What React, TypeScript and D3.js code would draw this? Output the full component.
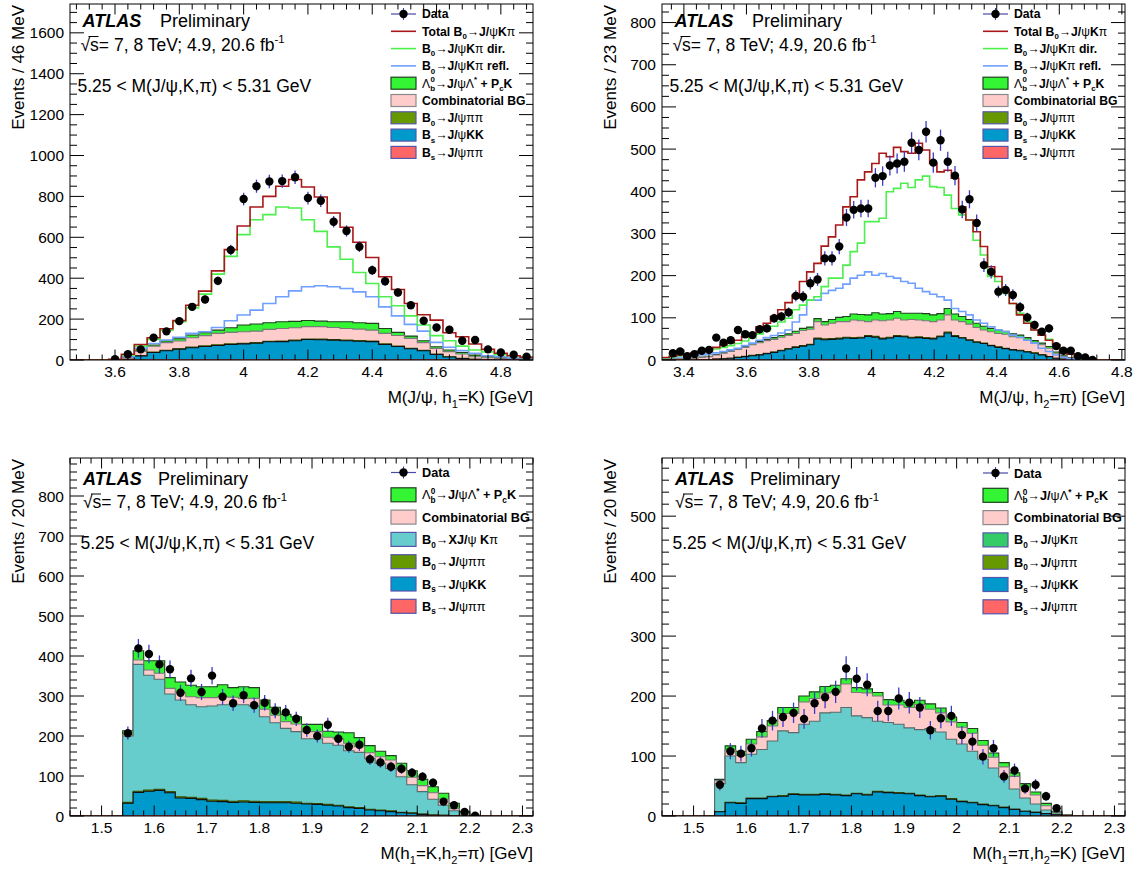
import React from 'react';
import * as d3 from 'd3';

// ---------- panel 1: M(J/psi, h1=K), 36 bins 3.46 - 4.90 GeV ----------
const p1Range = [3.46, 4.9];
const p1Bins = 36;
const p1Data = [null, null, null, 4, 28, 52, 109, 140, 190, 260, 296, 387, 538, 787, 850, 873, 875, 894, 792, 779, 676, 631, 554, 439, 385, 330, 268, 192, 159, 148, 94, 98, 52, 37, 26, 16];
const p1Total = [0, 0, 0, 3, 28, 76, 109, 153, 193, 268, 337, 436, 540, 655, 748, 800, 850, 883, 846, 797, 719, 649, 576, 501, 407, 345, 276, 221, 195, 133, 114, 78, 52, 33, 21, 13];
const p1Dir = [0, 0, 0, 2, 24, 68, 101, 146, 187, 255, 322, 420, 507, 613, 686, 711, 748, 743, 686, 629, 553, 493, 428, 374, 309, 265, 216, 171, 119, 94, 68, 49, 39, 26, 21, 13];
const p1Refl = [0, 0, 0, 1, 16, 57, 81, 98, 111, 130, 138, 159, 192, 220, 244, 276, 309, 338, 358, 363, 358, 350, 333, 309, 260, 216, 174, 141, 86, 62, 46, 33, 21, 16, 10, 5];
const p1KK = [0, 0, 0, 0, 3, 20, 36, 44, 52, 59, 65, 70, 75, 78, 81, 88, 89, 93, 99, 98, 96, 93, 91, 89, 75, 65, 54, 44, 26, 15, 7, 3, 2, 1, 1, 1];
const p1B0pp = [0, 0, 0, 0, 0, 1, 2, 2, 2, 3, 3, 3, 3, 3, 3, 3, 3, 3, 3, 3, 3, 3, 3, 3, 3, 2, 2, 2, 2, 1, 1, 1, 0, 0, 0, 0];
const p1Bspp = [0, 0, 0, 0, 0, 0, 1, 1, 1, 1, 1, 1, 1, 1, 1, 1, 1, 1, 1, 1, 1, 1, 1, 1, 1, 1, 1, 1, 1, 0, 0, 0, 0, 0, 0, 0];
const p1Comb = [0, 0, 0, 0, 10, 21, 28, 38, 38, 46, 50, 56, 56, 56, 56, 58, 61, 61, 60, 61, 59, 57, 56, 53, 51, 52, 49, 38, 28, 25, 21, 12, 9, 7, 4, 2];
const p1Lb = [0, 0, 0, 0, 2, 7, 6, 8, 11, 13, 14, 16, 23, 33, 35, 32, 33, 31, 30, 27, 28, 33, 31, 33, 24, 15, 11, 9, 8, 8, 8, 8, 5, 3, 3, 2];

// ---------- panel 2: M(J/psi, h2=pi), 64 bins 3.33 - 4.81 GeV ----------
const p2Range = [3.33, 4.81];
const p2Bins = 64;
const p2Data = [null, 16, 20, 9, 14, 22, 24, 53, 41, 47, 71, 61, 59, 73, 75, 99, 103, 113, 152, 150, 182, 191, 241, 241, 269, 338, 356, 359, 359, 432, 436, 461, 466, 470, 515, 498, 541, 468, 521, 470, 437, 357, 381, 325, 225, 209, 162, 166, 154, 125, 101, 83, 67, 75, 33, 22, 22, 9, 6, 0, null, null, null, null];
const p2Total = [6, 9, 12, 14, 17, 22, 25, 30, 36, 41, 47, 55, 63, 79, 87, 103, 119, 136, 154, 186, 209, 229, 270, 292, 320, 363, 387, 427, 446, 466, 490, 482, 504, 494, 490, 514, 498, 466, 446, 450, 431, 363, 332, 304, 269, 221, 198, 166, 134, 107, 87, 71, 59, 47, 36, 22, 14, 8, 4, 2, 0, 0, 0, 0];
const p2Dir = [5, 8, 10, 12, 15, 19, 22, 26, 30, 34, 39, 45, 52, 62, 70, 80, 90, 99, 119, 130, 142, 150, 174, 194, 194, 225, 257, 277, 328, 328, 336, 399, 407, 419, 409, 427, 436, 411, 409, 391, 359, 344, 332, 284, 249, 198, 186, 158, 134, 111, 91, 71, 59, 49, 36, 22, 14, 8, 4, 2, 0, 0, 0, 0];
const p2Refl = [4, 6, 7, 8, 10, 12, 14, 17, 20, 24, 28, 34, 40, 47, 53, 58, 64, 71, 90, 107, 142, 142, 158, 165, 170, 180, 194, 201, 209, 201, 205, 198, 194, 186, 182, 170, 162, 156, 150, 142, 122, 115, 107, 95, 87, 79, 71, 67, 59, 54, 47, 40, 28, 20, 12, 6, 3, 2, 1, 0, 0, 0, 0, 0];
const p2KK = [0, 0, 0, 0, 0, 1, 1, 2, 3, 4, 6, 8, 10, 12, 15, 18, 22, 26, 30, 33, 36, 49, 47, 48, 49, 51, 50, 51, 55, 53, 49, 51, 55, 54, 51, 52, 50, 49, 54, 63, 55, 51, 46, 41, 38, 33, 30, 27, 24, 22, 19, 16, 12, 8, 4, 2, 1, 0, 0, 0, 0, 0, 0, 0];
const p2B0pp = [0, 0, 0, 0, 0, 0, 0, 0, 0, 0, 1, 1, 1, 1, 1, 1, 1, 1, 1, 1, 1, 2, 2, 2, 2, 2, 2, 2, 2, 2, 2, 2, 2, 2, 2, 2, 2, 2, 2, 2, 2, 1, 1, 1, 1, 1, 1, 1, 1, 1, 1, 1, 1, 0, 0, 0, 0, 0, 0, 0, 0, 0, 0, 0];
const p2Bspp = [0, 0, 0, 0, 0, 0, 0, 0, 0, 0, 0, 0, 0, 0, 0, 0, 0, 0, 0, 0, 0, 1, 1, 1, 1, 1, 1, 1, 1, 1, 1, 1, 1, 1, 1, 1, 1, 1, 1, 1, 1, 1, 1, 1, 1, 1, 0, 0, 0, 0, 0, 0, 0, 0, 0, 0, 0, 0, 0, 0, 0, 0, 0, 0];
const p2Comb = [1, 2, 2, 3, 4, 5, 7, 10, 13, 16, 18, 21, 25, 28, 30, 30, 31, 31, 32, 36, 36, 39, 33, 36, 39, 37, 42, 39, 33, 39, 41, 41, 41, 38, 42, 40, 40, 39, 38, 41, 37, 38, 37, 34, 31, 32, 32, 33, 30, 30, 27, 24, 23, 20, 12, 6, 4, 3, 2, 1, 0, 0, 0, 0];
const p2Lb = [0, 0, 0, 0, 0, 1, 1, 1, 1, 2, 2, 2, 3, 3, 3, 4, 4, 4, 5, 5, 5, 7, 8, 9, 10, 12, 14, 15, 16, 17, 16, 15, 16, 16, 15, 16, 17, 16, 15, 15, 14, 12, 11, 10, 9, 8, 8, 7, 7, 6, 6, 5, 4, 4, 3, 2, 1, 1, 0, 0, 0, 0, 0, 0];

// ---------- panel 3: M(h1=K, h2=pi), 44 bins 1.44 - 2.32 GeV ----------
const p3Range = [1.44, 2.32];
const p3Bins = 44;
const p3Data = [null, null, null, null, null, 207, 419, 405, 379, 367, 308, 344, 310, 351, 298, 282, 302, 277, 283, 263, 259, 243, 215, 200, 228, 193, 173, 178, 142, 134, 123, 118, 108, 98, 83, 36, 27, 10, 1, null, null, null, null, null];
const p3KK = [0, 0, 0, 0, 0, 32, 58, 61, 63, 57, 44, 43, 40, 36, 35, 33, 34, 33, 32, 32, 32, 32, 30, 29, 27, 25, 21, 19, 15, 13, 11, 8, 7, 4, 2, 2, 1, 0, 0, 0, 0, 0, 0, 0];
const p3B0pp = [0, 0, 0, 0, 0, 2, 3, 3, 3, 3, 3, 3, 3, 3, 3, 3, 3, 3, 3, 3, 3, 3, 2, 2, 2, 2, 2, 2, 2, 2, 2, 1, 1, 1, 1, 0, 0, 0, 0, 0, 0, 0, 0, 0];
const p3Bspp = [0, 0, 0, 0, 0, 0, 1, 1, 1, 1, 1, 1, 1, 1, 1, 1, 1, 1, 1, 1, 1, 0, 0, 0, 0, 0, 0, 0, 0, 0, 0, 0, 0, 0, 0, 0, 0, 0, 0, 0, 0, 0, 0, 0];
const p3XKpi = [0, 0, 0, 0, 0, 166, 317, 287, 275, 244, 242, 231, 229, 235, 239, 241, 240, 238, 212, 197, 183, 176, 161, 162, 153, 150, 140, 138, 127, 117, 106, 89, 70, 56, 39, 25, 12, 2, 1, 0, 0, 0, 0, 0];
const p3Comb = [0, 0, 0, 0, 0, 3, 11, 13, 15, 14, 18, 20, 23, 21, 20, 19, 16, 19, 19, 19, 17, 19, 18, 18, 15, 16, 19, 14, 14, 16, 21, 17, 19, 15, 16, 15, 5, 3, 0, 0, 0, 0, 0, 0];
const p3Lb = [0, 0, 0, 0, 0, 10, 23, 23, 31, 27, 27, 29, 27, 27, 30, 24, 29, 27, 23, 20, 18, 18, 18, 18, 15, 17, 26, 23, 18, 14, 11, 17, 16, 16, 15, 15, 14, 6, 1, 0, 0, 0, 0, 0];

// ---------- panel 4: M(h1=pi, h2=K), 44 bins 1.44 - 2.32 GeV ----------
const p4Range = [1.44, 2.32];
const p4Bins = 44;
const p4Data = [null, null, null, null, null, 52, 108, 104, 113, 146, 159, 165, 172, 162, 188, 198, 207, 246, 229, 219, 175, 175, 196, 189, 181, 143, 163, 167, 135, 124, 99, 113, 66, 76, 46, 52, 33, 13, null, null, null, null, null, null];
const p4KK = [0, 0, 0, 0, 0, 7, 22, 21, 29, 29, 32, 33, 36, 35, 35, 36, 35, 34, 37, 35, 40, 39, 38, 37, 34, 32, 33, 28, 24, 22, 19, 17, 14, 11, 8, 6, 4, 2, 1, 0, 0, 0, 0, 0];
const p4B0pp = [0, 0, 0, 0, 0, 0, 1, 1, 1, 1, 1, 1, 1, 1, 1, 1, 1, 1, 1, 1, 1, 1, 1, 1, 1, 1, 1, 1, 1, 1, 1, 1, 1, 0, 0, 0, 0, 0, 0, 0, 0, 0, 0, 0];
const p4Bspp = [0, 0, 0, 0, 0, 0, 0, 0, 0, 0, 0, 0, 0, 0, 0, 0, 0, 0, 0, 0, 0, 0, 0, 0, 0, 0, 0, 0, 0, 0, 0, 0, 0, 0, 0, 0, 0, 0, 0, 0, 0, 0, 0, 0];
const p4Kpi = [0, 0, 0, 0, 0, 47, 77, 67, 73, 81, 92, 108, 102, 117, 122, 135, 137, 146, 129, 128, 117, 116, 114, 109, 109, 113, 106, 99, 95, 85, 75, 62, 50, 34, 22, 14, 6, 3, 0, 0, 0, 0, 0, 0];
const p4Comb = [0, 0, 0, 0, 0, 5, 10, 12, 17, 21, 25, 29, 32, 37, 38, 33, 34, 39, 39, 41, 42, 29, 32, 34, 42, 32, 32, 29, 28, 30, 23, 18, 17, 21, 18, 15, 7, 1, 0, 0, 0, 0, 0, 0];
const p4Lb = [0, 0, 0, 0, 0, 2, 7, 7, 8, 9, 9, 10, 10, 10, 11, 11, 11, 9, 8, 7, 6, 9, 8, 8, 7, 9, 8, 8, 8, 8, 8, 7, 7, 6, 6, 5, 4, 2, 0, 0, 0, 0, 0, 0];

// ---------- styles ----------
const FONT = "'Liberation Sans', Arial, Helvetica, sans-serif";
const C = {
  total: '#a81818', dir: '#4cf04c', refl: '#6f9fff',
  lb: '#33f533', comb: '#ffcccc', teal: '#66cccc', b0pp: '#669900', kk: '#0099cc', bspp: '#ff6666',
  err: '#3a3ac8',
};

interface Layer { key: string; values: number[]; fill: string; stroke: string; }
interface Curve { values: number[]; color: string; }
interface Entry { kind: 'data' | 'line' | 'box'; label: string; color?: string; stroke?: string; }
interface PanelCfg {
  id: string;
  x0: number; x1: number; y0: number; y1: number;
  range: number[]; bins: number; yMax: number;
  xMajor: number; xMinor: number; yMajor: number; yMinor: number;
  layers: Layer[]; curves: Curve[]; data: (number | null)[]; errScale: number;
  xTitle: string; yTitle: string;
  legend: Entry[]; legY: number; legStep: number; swH: number; legFont: number;
  top: boolean;
}

// "_{..}" subscript, "^{..}" superscript; greek letters and arrows are drawn non-bold in bold labels
function RichText(props: { text: string; x: number; y: number; size: number; bold?: boolean; anchor?: string; transform?: string }) {
  const { text, x, y, size, bold, anchor, transform } = props;
  const segs: { t: string; mode: string }[] = [];
  let buf = '';
  for (let i = 0; i < text.length; ) {
    if ((text[i] === '_' || text[i] === '^') && text[i + 1] === '{') {
      if (buf) { segs.push({ t: buf, mode: 'n' }); buf = ''; }
      const end = text.indexOf('}', i);
      segs.push({ t: text.slice(i + 2, end), mode: text[i] === '_' ? 'sub' : 'sup' });
      i = end + 1;
    } else { buf += text[i]; i++; }
  }
  if (buf) segs.push({ t: buf, mode: 'n' });

  const spans: React.ReactNode[] = [];
  let cur = 0;
  segs.forEach((s, si) => {
    const off = s.mode === 'sub' ? 0.28 * size : s.mode === 'sup' ? -0.42 * size : 0;
    const fs = s.mode === 'n' ? size : 0.65 * size;
    let dx = 0;
    if (s.mode === 'sup' && si > 0 && segs[si - 1].mode === 'sub') dx = -segs[si - 1].t.length * 0.58 * fs;
    const parts = bold ? s.t.split(/([ψπΛ→]+)/).filter((p) => p !== '') : [s.t];
    parts.forEach((p, pi) => {
      const greek = /[ψπΛ→]/.test(p);
      spans.push(
        <tspan key={si + '-' + pi} dy={pi === 0 ? off - cur : 0} dx={pi === 0 && dx ? dx : undefined}
          fontSize={fs} fontWeight={bold && !greek ? 'bold' : 'normal'}>{p}</tspan>
      );
    });
    cur = off;
  });
  return <text x={x} y={y} textAnchor={anchor || 'start'} transform={transform} fontSize={size}>{spans}</text>;
}

function ticksFrom(lo: number, hi: number, step: number) {
  return d3.range(Math.ceil(lo / step - 1e-9), Math.floor(hi / step + 1e-9) + 1).map((k) => +(k * step).toFixed(6));
}

function Panel({ cfg }: { cfg: PanelCfg }) {
  const { x0, x1, y0, y1, range, bins } = cfg;
  const xs = d3.scaleLinear().domain(range).range([x0, x1]);
  const ys = d3.scaleLinear().domain([0, cfg.yMax]).range([y1, y0]);
  const edges = d3.range(bins + 1).map((i) => range[0] + (i * (range[1] - range[0])) / bins);
  const centers = d3.range(bins).map((i) => (edges[i] + edges[i + 1]) / 2);

  const rows = d3.range(bins).map((i) => {
    const r: Record<string, number> = {};
    cfg.layers.forEach((l) => { r[l.key] = l.values[i]; });
    return r;
  });
  const series = d3.stack<Record<string, number>>().keys(cfg.layers.map((l) => l.key))(rows);

  const area = d3.area<number[]>().x((d) => xs(d[0])).y0(ys(0)).y1((d) => ys(d[1])).curve(d3.curveStepAfter);
  const line = d3.line<number[]>().x((d) => xs(d[0])).y((d) => ys(d[1])).curve(d3.curveStepAfter);
  const stepPts = (vals: number[]) => {
    const pts = vals.map((v, i) => [edges[i], v]);
    pts.push([edges[bins], vals[bins - 1]]);
    return pts;
  };

  const xMaj = ticksFrom(range[0], range[1], cfg.xMajor);
  const xMin = ticksFrom(range[0], range[1], cfg.xMinor).filter((t) => !xMaj.some((m) => Math.abs(m - t) < 1e-6));
  const yMaj = ticksFrom(0, cfg.yMax, cfg.yMajor);
  const yMin = ticksFrom(0, cfg.yMax, cfg.yMinor).filter((t) => !yMaj.some((m) => Math.abs(m - t) < 1e-6));
  const clipId = 'clip-' + cfg.id;

  const legX = x1 - 142;
  const swW = 25;

  const tb = cfg.top
    ? { atlas: [x0 + 12.5, y0 + 22.5], prelim: x0 + 90, sqrt: [x0 + 10.5, y0 + 46.5], cut: [x0 + 7.5, y0 + 88] }
    : { atlas: [x0 + 13, y0 + 27], prelim: x0 + 88, sqrt: [x0 + 13, y0 + 50], cut: [x0 + 10.5, y0 + 91] };

  return (
    <g>
      <defs>
        <clipPath id={clipId}>
          <rect x={x0} y={y0} width={x1 - x0} height={y1 - y0} />
        </clipPath>
      </defs>
      <g clipPath={`url(#${clipId})`}>
        {series.slice().reverse().map((s) => {
          const l = cfg.layers.find((q) => q.key === s.key)!;
          const pts = stepPts(s.map((d) => d[1]));
          return <path key={s.key} d={area(pts) || ''} fill={l.fill} stroke={l.stroke} strokeWidth={1.1} />;
        })}
        {cfg.curves.map((c, i) => (
          <path key={i} d={line(stepPts(c.values)) || ''} fill="none" stroke={c.color} strokeWidth={1.6} />
        ))}
        {cfg.data.map((v, i) => {
          if (v === null) return null;
          const e = Math.sqrt(v) * cfg.errScale;
          return (
            <g key={i}>
              <line x1={xs(centers[i])} x2={xs(centers[i])} y1={ys(Math.max(0, v - e))} y2={ys(v + e)} stroke={C.err} strokeWidth={1.3} />
              <circle cx={xs(centers[i])} cy={ys(v)} r={4.2} fill="#000" />
            </g>
          );
        })}
      </g>

      {/* ticks */}
      <g stroke="#000" strokeWidth={1}>
        {xMaj.map((t) => (
          <g key={'xM' + t}>
            <line x1={xs(t)} x2={xs(t)} y1={y1} y2={y1 - 10.5} />
            <line x1={xs(t)} x2={xs(t)} y1={y0} y2={y0 + 10.5} />
          </g>
        ))}
        {xMin.map((t) => (
          <g key={'xm' + t}>
            <line x1={xs(t)} x2={xs(t)} y1={y1} y2={y1 - 5.5} />
            <line x1={xs(t)} x2={xs(t)} y1={y0} y2={y0 + 5.5} />
          </g>
        ))}
        {yMaj.map((t) => (
          <g key={'yM' + t}>
            <line x1={x0} x2={x0 + 14} y1={ys(t)} y2={ys(t)} />
            <line x1={x1} x2={x1 - 14} y1={ys(t)} y2={ys(t)} />
          </g>
        ))}
        {yMin.map((t) => (
          <g key={'ym' + t}>
            <line x1={x0} x2={x0 + 7} y1={ys(t)} y2={ys(t)} />
            <line x1={x1} x2={x1 - 7} y1={ys(t)} y2={ys(t)} />
          </g>
        ))}
      </g>
      <rect x={x0} y={y0} width={x1 - x0} height={y1 - y0} fill="none" stroke="#000" strokeWidth={1} />

      {/* tick labels */}
      <g fontSize={15.5} fill="#000">
        {xMaj.map((t) => (
          <text key={'xl' + t} x={xs(t)} y={y1 + 17} textAnchor="middle">{String(+t.toFixed(3))}</text>
        ))}
        {yMaj.map((t) => (
          <text key={'yl' + t} x={x0 - 6} y={ys(t) + 5.5} textAnchor="end">{d3.format('d')(t)}</text>
        ))}
      </g>

      {/* axis titles */}
      <RichText text={cfg.xTitle} x={x1} y={y1 + 43} size={17} anchor="end" />
      <RichText text={cfg.yTitle} x={0} y={0} size={17} anchor="end" transform={`translate(${x0 - 46},${y0 + 1}) rotate(-90)`} />

      {/* ATLAS labels */}
      <text x={tb.atlas[0]} y={tb.atlas[1]} fontSize={18} fontWeight="bold" fontStyle="italic">ATLAS</text>
      <text x={tb.prelim} y={tb.atlas[1]} fontSize={18}>Preliminary</text>
      <RichText text={'√s= 7, 8 TeV; 4.9, 20.6 fb^{-1}'} x={tb.sqrt[0]} y={tb.sqrt[1]} size={17.5} />
      <line x1={tb.sqrt[0] + 8} x2={tb.sqrt[0] + 18} y1={tb.sqrt[1] - 14} y2={tb.sqrt[1] - 14} stroke="#000" strokeWidth={1} />
      <text x={tb.cut[0]} y={tb.cut[1]} fontSize={17.5}>5.25 &lt; M(J/ψ,K,π) &lt; 5.31 GeV</text>

      {/* legend */}
      {cfg.legend.map((e, i) => {
        const cy = cfg.legY + i * cfg.legStep;
        return (
          <g key={'lg' + i}>
            {e.kind === 'box' && (
              <rect x={legX} y={cy - cfg.swH / 2} width={swW} height={cfg.swH} fill={e.color} stroke={e.stroke} strokeWidth={1.2} />
            )}
            {e.kind === 'line' && <line x1={legX} x2={legX + swW} y1={cy} y2={cy} stroke={e.color} strokeWidth={1.6} />}
            {e.kind === 'data' && (
              <g>
                <line x1={legX} x2={legX + swW} y1={cy} y2={cy} stroke="#4a4aa8" strokeWidth={1.2} />
                <line x1={legX + swW / 2} x2={legX + swW / 2} y1={cy - 6} y2={cy + 6} stroke={C.err} strokeWidth={1} />
                <circle cx={legX + swW / 2} cy={cy} r={4.2} fill="#000" />
              </g>
            )}
            <RichText text={e.label} x={legX + swW + 6} y={cy + cfg.legFont * 0.36} size={cfg.legFont} bold />
          </g>
        );
      })}
    </g>
  );
}

const boxStroke = { lb: '#1f3f1f', comb: '#8a8a8a', other: '#5555aa' };

const layersTop = (kk: number[], b0pp: number[], bspp: number[], comb: number[], lb: number[]): Layer[] => [
  { key: 'bspp', values: bspp, fill: C.bspp, stroke: '#aa3333' },
  { key: 'kk', values: kk, fill: C.kk, stroke: '#111' },
  { key: 'b0pp', values: b0pp, fill: C.b0pp, stroke: '#3d5200' },
  { key: 'comb', values: comb, fill: C.comb, stroke: '#7a7a7a' },
  { key: 'lb', values: lb, fill: C.lb, stroke: '#1f3f1f' },
];
const layersBottom = (kk: number[], b0pp: number[], bspp: number[], kpi: number[], comb: number[], lb: number[]): Layer[] => [
  { key: 'bspp', values: bspp, fill: C.bspp, stroke: '#aa3333' },
  { key: 'kk', values: kk, fill: C.kk, stroke: '#111' },
  { key: 'b0pp', values: b0pp, fill: C.b0pp, stroke: '#3d5200' },
  { key: 'kpi', values: kpi, fill: C.teal, stroke: '#5a6a6a' },
  { key: 'comb', values: comb, fill: C.comb, stroke: '#7a7a7a' },
  { key: 'lb', values: lb, fill: C.lb, stroke: '#1f3f1f' },
];

const LB_LABEL = 'Λ_{b}^{0}→J/ψΛ^{*} + P_{c}K';
const legendTop: Entry[] = [
  { kind: 'data', label: 'Data' },
  { kind: 'line', label: 'Total B_{0}→J/ψKπ', color: C.total },
  { kind: 'line', label: 'B_{0}→J/ψKπ dir.', color: C.dir },
  { kind: 'line', label: 'B_{0}→J/ψKπ refl.', color: C.refl },
  { kind: 'box', label: LB_LABEL, color: C.lb, stroke: boxStroke.lb },
  { kind: 'box', label: 'Combinatorial BG', color: C.comb, stroke: boxStroke.comb },
  { kind: 'box', label: 'B_{0}→J/ψππ', color: C.b0pp, stroke: boxStroke.other },
  { kind: 'box', label: 'B_{s}→J/ψKK', color: C.kk, stroke: boxStroke.other },
  { kind: 'box', label: 'B_{s}→J/ψππ', color: C.bspp, stroke: boxStroke.other },
];
const legendBottom = (kpiLabel: string, kpiColor: string): Entry[] => [
  { kind: 'data', label: 'Data' },
  { kind: 'box', label: LB_LABEL, color: C.lb, stroke: boxStroke.lb },
  { kind: 'box', label: 'Combinatorial BG', color: C.comb, stroke: boxStroke.comb },
  { kind: 'box', label: kpiLabel, color: kpiColor, stroke: boxStroke.other },
  { kind: 'box', label: 'B_{0}→J/ψππ', color: C.b0pp, stroke: boxStroke.other },
  { kind: 'box', label: 'B_{s}→J/ψKK', color: C.kk, stroke: boxStroke.other },
  { kind: 'box', label: 'B_{s}→J/ψππ', color: C.bspp, stroke: boxStroke.other },
];

const panels: PanelCfg[] = [
  {
    id: 'p1', x0: 70, x1: 533, y0: 4, y1: 360, range: p1Range, bins: p1Bins, yMax: 1741,
    xMajor: 0.2, xMinor: 0.04, yMajor: 200, yMinor: 50,
    layers: layersTop(p1KK, p1B0pp, p1Bspp, p1Comb, p1Lb),
    curves: [{ values: p1Refl, color: C.refl }, { values: p1Dir, color: C.dir }, { values: p1Total, color: C.total }],
    data: p1Data, errScale: 1.1,
    xTitle: 'M(J/ψ, h_{1}=K) [GeV]', yTitle: 'Events / 46 MeV',
    legend: legendTop, legY: 14, legStep: 17.3, swH: 12, legFont: 12.2, top: true,
  },
  {
    id: 'p2', x0: 662, x1: 1125, y0: 4, y1: 360, range: p2Range, bins: p2Bins, yMax: 844,
    xMajor: 0.2, xMinor: 0.04, yMajor: 100, yMinor: 25,
    layers: layersTop(p2KK, p2B0pp, p2Bspp, p2Comb, p2Lb),
    curves: [{ values: p2Refl, color: C.refl }, { values: p2Dir, color: C.dir }, { values: p2Total, color: C.total }],
    data: p2Data, errScale: 1.1,
    xTitle: 'M(J/ψ, h_{2}=π) [GeV]', yTitle: 'Events / 23 MeV',
    legend: legendTop, legY: 14, legStep: 17.3, swH: 12, legFont: 12.2, top: true,
  },
  {
    id: 'p3', x0: 70, x1: 533, y0: 458, y1: 816, range: p3Range, bins: p3Bins, yMax: 895,
    xMajor: 0.1, xMinor: 0.02, yMajor: 100, yMinor: 20,
    layers: layersBottom(p3KK, p3B0pp, p3Bspp, p3XKpi, p3Comb, p3Lb),
    curves: [],
    data: p3Data, errScale: 1.15,
    xTitle: 'M(h_{1}=K,h_{2}=π) [GeV]', yTitle: 'Events / 20 MeV',
    legend: legendBottom('B_{0}→XJ/ψ Kπ', C.teal), legY: 472.5, legStep: 22.3, swH: 14, legFont: 12.7, top: false,
  },
  {
    id: 'p4', x0: 662, x1: 1125, y0: 458, y1: 816, range: p4Range, bins: p4Bins, yMax: 597,
    xMajor: 0.1, xMinor: 0.02, yMajor: 100, yMinor: 20,
    layers: layersBottom(p4KK, p4B0pp, p4Bspp, p4Kpi, p4Comb, p4Lb),
    curves: [],
    data: p4Data, errScale: 1.3,
    xTitle: 'M(h_{1}=π,h_{2}=K) [GeV]', yTitle: 'Events / 20 MeV',
    legend: legendBottom('B_{0}→J/ψKπ', '#33cc66'), legY: 473, legStep: 22.3, swH: 14, legFont: 12.7, top: false,
  },
];

const App: React.FC = () => (
  <svg width={1143} height={873} fontFamily={FONT}
    style={{ position: 'absolute', left: 0, top: 0, background: '#fff' }}>
    <rect x={0} y={0} width={1143} height={873} fill="#fff" />
    {panels.map((p) => <Panel key={p.id} cfg={p} />)}
  </svg>
);

export default App;
